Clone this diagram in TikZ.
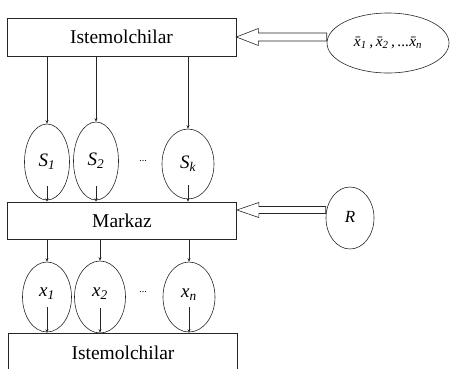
\documentclass[tikz,border=0pt]{standalone}
\usepackage{fontspec}
\setmainfont{Liberation Serif}
\usetikzlibrary{shapes.geometric,arrows.meta,calc}
\begin{document}
\begin{tikzpicture}[x=1pt,y=-1pt,
  ink/.style={draw=black!85, line width=0.6pt},
  panel/.style={ink, rectangle, minimum width=229pt, minimum height=38pt,
    inner sep=0pt, font=\fontsize{19.5}{20}\selectfont},
  oval/.style={ink, ellipse, inner sep=0pt, font=\fontsize{19}{20}\selectfont\itshape},
  link/.style={draw=black!85, line width=0.5pt, -{Stealth[length=3.5pt,width=3pt]}},
  hollow/.style={ink, line join=miter},
  dots/.style={inner sep=0pt, font=\fontsize{10}{10}\selectfont}
]
\useasboundingbox (0,0) rectangle (454,368);
\clip (0,0) rectangle (454,368);

% consumers, centre, consumers
\node[panel] (top) at (121.5,37) {Istemolchilar};
\node[panel, minimum height=37pt] (mk) at (122,220.5) {Markaz};
\node[panel, minimum height=40pt] (bot) at (123,353) {\raisebox{1pt}{Istemolchilar}};

% input ovals
\node[oval, minimum width=122pt, minimum height=60pt, font=\fontsize{15.5}{16}\selectfont\itshape]
  (xe) at (388,43) {\raisebox{2pt}{\={x}\textsubscript{1}\,,\,\={x}\textsubscript{2}\,,\,...\={x}\textsubscript{n}}};
\node[oval, minimum width=48pt, minimum height=62pt, font=\fontsize{17}{18}\selectfont\itshape]
  (r) at (350,218) {\raisebox{2pt}{R}};

% supply ovals
\node[oval, minimum width=45pt, minimum height=76pt] (s1) at (47,162) {S\textsubscript{1}};
\node[oval, minimum width=45pt, minimum height=78pt] (s2) at (96,161) {S\textsubscript{2}};
\node[oval, minimum width=52pt, minimum height=70pt] (sk) at (188,164) {\raisebox{-2pt}{S\textsubscript{k}}};
\node[dots] (sd) at (143,161) {...};

% demand ovals
\node[oval, minimum width=49pt, minimum height=70pt] (x1) at (47,297) {\raisebox{9pt}{x\textsubscript{1}}};
\node[oval, minimum width=51pt, minimum height=72pt] (x2) at (100,297) {\raisebox{9pt}{x\textsubscript{2}}};
\node[oval, minimum width=52pt, minimum height=70pt] (xn) at (189,297) {\raisebox{7pt}{x\textsubscript{n}}};
\node[dots] (xd) at (143,292) {...};

% consumers -> supply ovals
\foreach \o in {s1,s2,sk}
  \draw[link] (top.south -| \o) -- (\o.north);
% supply ovals -> centre
\foreach \o in {s1,s2,sk}
  \draw[link] ($(\o.south)+(0,-14)$) -- (\o |- mk.north);
% centre -> demand ovals
\foreach \o in {x1,x2,xn}
  \draw[link] (mk.south -| \o) -- (\o.north);
% demand ovals -> consumers
\foreach \o in {x1,x2,xn}
  \draw[link] ($(\o.south)+(0,-25)$) -- (\o |- bot.north);

% hollow block arrows
\coordinate (h1) at (top.east);
\draw[hollow] (h1) -- ++(22,-8.5) -- ++(0,4.5) -- ($(h1 -| xe.west)+(0,-4)$)
  -- ($(h1 -| xe.west)+(0,4)$) -- ($(h1)+(22,4)$) -- ++(0,4.5) -- cycle;
\coordinate (h2) at ([yshift=10.5pt]mk.east);
\draw[hollow] (h2) -- ++(22,-7.5) -- ++(0,4) -- ($(h2 -| r.west)+(0,-3.5)$)
  -- ($(h2 -| r.west)+(0,3.5)$) -- ($(h2)+(22,3.5)$) -- ++(0,4) -- cycle;
\end{tikzpicture}
\end{document}
